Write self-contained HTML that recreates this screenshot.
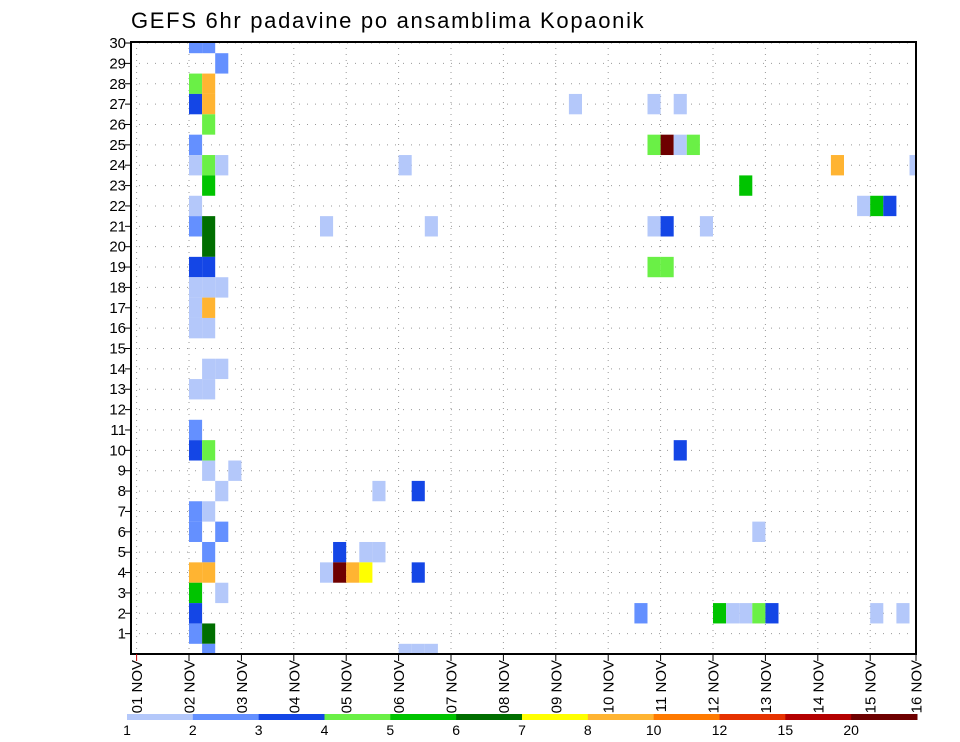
<!DOCTYPE html>
<html><head><meta charset="utf-8">
<style>
body{margin:0;background:#fff;}
svg{display:block;font-family:"Liberation Sans",sans-serif;}
</style></head>
<body>
<svg id="chart" width="960" height="742" viewBox="0 0 960 742" xmlns="http://www.w3.org/2000/svg">
<text x="131" y="28" font-size="22" letter-spacing="1.7" fill="#000">GEFS 6hr padavine po ansamblima Kopaonik</text>
<g id="grid"></g>
<g id="cells"></g>
<rect x="131" y="42" width="785" height="612" fill="none" stroke="#000" stroke-width="2"/>
<g id="yaxis"></g>
<g id="xaxis"></g>
<g id="legend"></g>
</svg>
<script>
// ---- data ----
const dayLabels = ["01 NOV","02 NOV","03 NOV","04 NOV","05 NOV","06 NOV","07 NOV","08 NOV","09 NOV","10 NOV","11 NOV","12 NOV","13 NOV","14 NOV","15 NOV","16 NOV"];
const memberTicks = [1,2,3,4,5,6,7,8,9,10,11,12,13,14,15,16,17,18,19,20,21,22,23,24,25,26,27,28,29,30];
const legendBreaks = ["1","2","3","4","5","6","7","8","10","12","15","20"];
const legendColors = ["#b4c8fa","#6490ff","#1446e6","#6af046","#00c400","#006e00","#ffff00","#ffb432","#ff7a00","#e63200","#b40000","#6e0000"];
// each cell: 6h step index from 01 NOV 00Z, ensemble member, colour class (0..11)
const cellSteps   = [4,5, 6, 4,5, 4,5,33,39,41, 5, 4,39,40,41,42, 4,5,6,20,53,59, 5,46, 4,55,56,57, 4,5,14,22,39,40,43, 5, 4,5,39,40, 4,5,6, 4,5, 4,5, 5,6, 4,5, 4, 4,5,41, 5,7, 6,18,21, 4,5, 4,6,47, 5,15,17,18, 4,5,14,15,16,17,21, 4,6, 4,38,44,45,46,47,48,56,58, 4,5, 5,20,21,22];
const cellMembers = [30,30,29,28,28,27,27,27,27,27,26,25,25,25,25,25,24,24,24,24,24,24,23,23,22,22,22,22,21,21,21,21,21,21,21,20,19,19,19,19,18,18,18,17,17,16,16,14,14,13,13,11,10,10,10,9,9,8,8,8,7,7,6,6,6,5,5,5,5,4,4,4,4,4,4,4,3,3,2,2,2,2,2,2,2,2,2,1,1,0,0,0,0];
const cellClass   = [1,1,1,3,7,2,7,0,0,0,3,1,3,11,0,3,0,3,0,0,7,0,4,4,0,0,4,2,1,5,0,0,0,2,0,5,2,2,3,3,0,0,0,0,7,0,0,0,0,0,0,1,2,3,2,0,0,0,0,2,1,0,1,1,0,1,2,0,0,7,7,0,11,7,6,2,4,0,2,1,4,0,0,3,2,0,0,1,5,1,0,0,0];

// ---- scales ----
const X0=136.6, DAY=52.4, PL=131, PR=916, PT=42, PB=654;
const ROW=(PB-PT)/30.05;
function xDay(d){return X0+d*DAY;}
function xStep(s){return X0+s*DAY/4;}
function yMem(m){return PB-m*ROW;}
const NS="http://www.w3.org/2000/svg";
function mk(tag,attrs,parent){const e=document.createElementNS(NS,tag);for(const k in attrs)e.setAttribute(k,attrs[k]);parent.appendChild(e);return e;}

// grid
const grid=document.getElementById('grid');
for(let d=0;d<15;d++){
  const l=mk('line',{x1:xDay(d),x2:xDay(d),y1:PT,y2:PB,stroke:'#999','stroke-width':1,'stroke-dasharray':'1 5'},grid);
  
  
}
memberTicks.forEach(m=>{
  const l=mk('line',{x1:PL,x2:PR,y1:yMem(m),y2:yMem(m),stroke:'#999','stroke-width':1,'stroke-dasharray':'1 7'},grid);
  
  
});

// cells
const cg=document.getElementById('cells');
const clip=mk('clipPath',{id:'plotclip'},mk('defs',{},document.getElementById('chart')));
mk('rect',{x:PL,y:PT,width:PR-PL,height:PB-PT},clip);
cg.setAttribute('clip-path','url(#plotclip)');
for(let i=0;i<cellSteps.length;i++){
  const x=xStep(cellSteps[i]), y=yMem(cellMembers[i])-ROW/2;
  const r=mk('rect',{x:x,y:y,width:DAY/4,height:ROW,fill:legendColors[cellClass[i]]},cg);
  
  
}

// y axis
const ya=document.getElementById('yaxis');
memberTicks.forEach(m=>{
  const t=mk('line',{x1:PL-6,x2:PL,y1:yMem(m),y2:yMem(m),stroke:'#000','stroke-width':1},ya);
  
  
  const tx=mk('text',{x:PL-5,y:yMem(m)+5,'font-size':15,'text-anchor':'end',fill:'#000'},ya);
  tx.textContent=m;
  
  
});

// x axis
const xa=document.getElementById('xaxis');
dayLabels.forEach((lab,d)=>{
  const x=Math.min(xDay(d),PR);
  const t=mk('line',{x1:x,x2:x,y1:PB,y2:PB+7,stroke:d===0?'#c00':'#000','stroke-width':1},xa);
  
  
  const tx=mk('text',{x:0,y:0,'font-size':15,'text-anchor':'end',fill:'#000',transform:`translate(${x+5.5},${PB+6}) rotate(-90)`},xa);
  tx.textContent=lab;
  
  
});

// legend
const lg=document.getElementById('legend');
const LX=127, LW=(917-127)/legendColors.length;
legendColors.forEach((c,i)=>{
  const r=mk('rect',{x:LX+i*LW,y:714,width:LW+0.5,height:6,fill:c},lg);
  
  
});
legendBreaks.forEach((b,i)=>{
  const tx=mk('text',{x:LX+i*LW,y:735,'font-size':14,'text-anchor':'middle',fill:'#000'},lg);
  tx.textContent=b;
  
  
});
</script>
</body></html>
